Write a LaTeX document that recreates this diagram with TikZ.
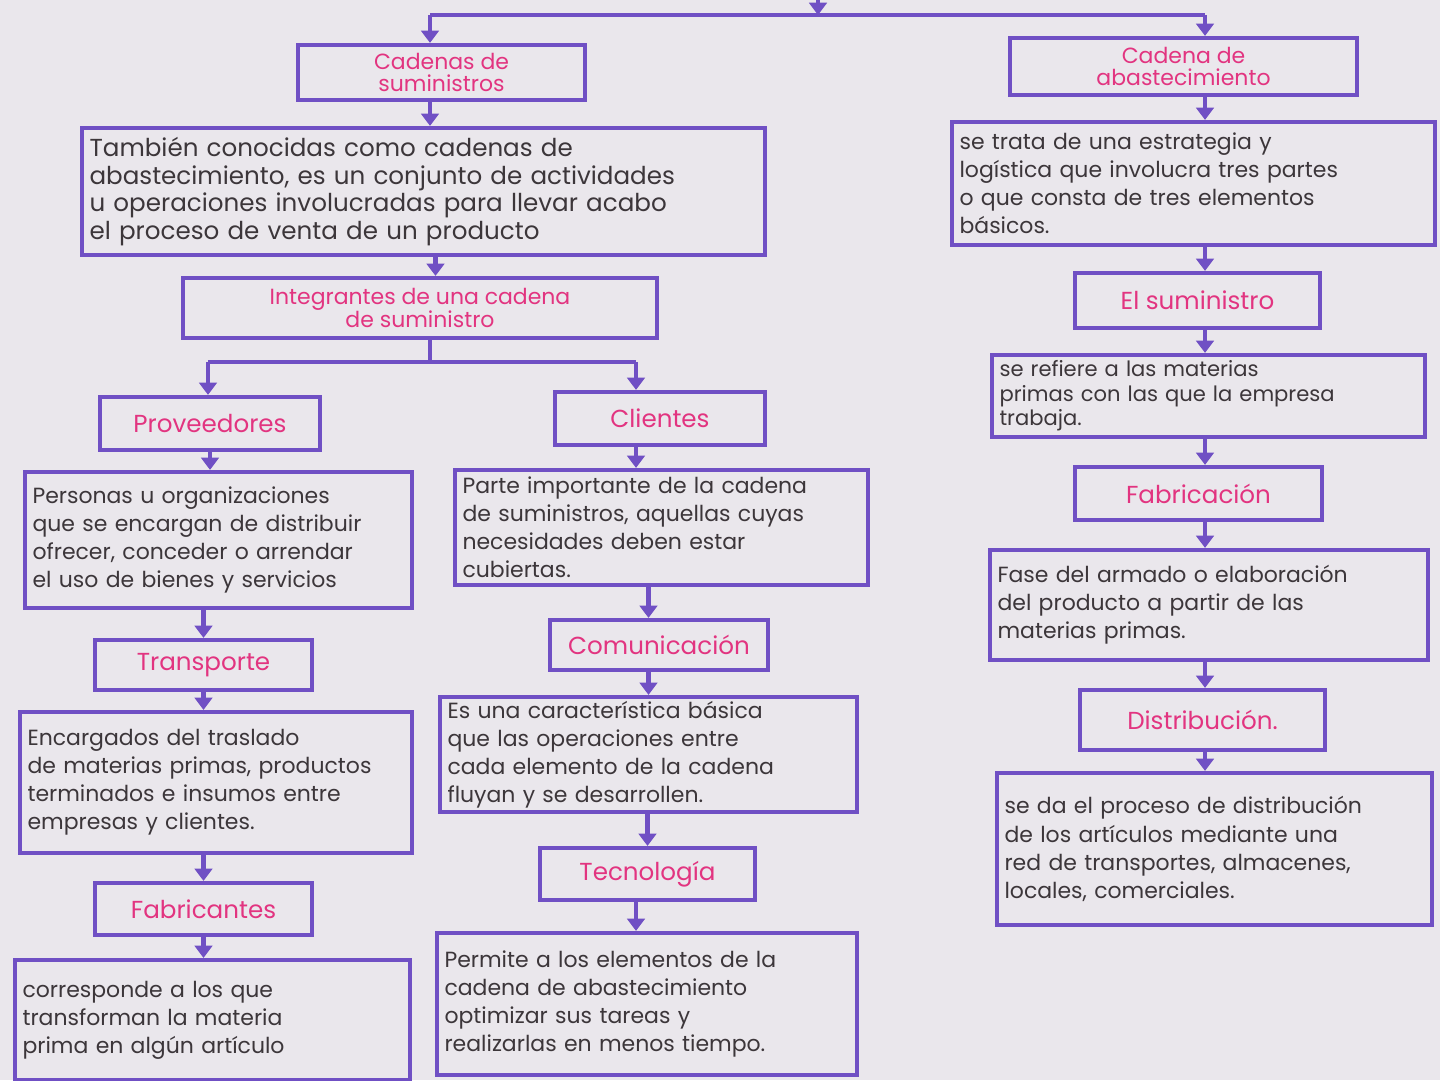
\documentclass[tikz,border=0pt]{standalone}
\usepackage{fontspec}
\setmainfont{Poppins}
\usepackage{tikz}
\usetikzlibrary{arrows.meta}
\definecolor{violeta}{RGB}{112,80,196}
\definecolor{rosa}{RGB}{226,52,128}
\definecolor{tinta}{RGB}{60,54,58}
\definecolor{papel}{RGB}{234,231,236}

\begin{document}
\begin{tikzpicture}[x=0.02cm, y=-0.02cm,
    caja/.style={draw=violeta, line width=2.4pt, inner xsep=0.15cm, inner ysep=0pt},
    titulo/.style={caja, text=rosa, align=center, font=\fontsize{14}{14.5}\selectfont},
    titulodos/.style={titulo, font=\fontsize{12.5}{13}\selectfont},
    texto/.style={caja, text=tinta, align=left, font=\fontsize{12.5}{16}\selectfont},
    linea/.style={draw=violeta, line width=2.4pt},
    flecha/.style={linea, -{Triangle[width=10pt,length=7pt]}}]

  \fill[papel] (0,0) rectangle (1440,1080);
  \useasboundingbox (0,0) rectangle (1440,1080);

  % columna izquierda
  \node[titulodos, minimum width=5.74cm, minimum height=1.1cm] (sumtit) at (441.5,72.5) {Cadenas de\\suministros};
  \node[texto, text width=13.36cm, minimum height=2.54cm, font=\fontsize{14}{15.8}\selectfont] (sumdef) at (423.5,191.5)
    {También conocidas como cadenas de\\abastecimiento, es un conjunto de actividades\\u operaciones involucradas para llevar acabo\\el proceso de venta de un producto};
  \node[titulodos, minimum width=9.48cm, minimum height=1.2cm] (integ) at (420,308) {Integrantes de una cadena\\de suministro};

  \node[titulo, minimum width=4.4cm, minimum height=1.06cm] (prov) at (210,423.5) {Proveedores};
  \node[texto, text width=7.44cm, minimum height=2.72cm] (provtxt) at (218.5,540)
    {Personas u organizaciones\\que se encargan de distribuir\\ofrecer, conceder o arrendar\\el uso de bienes y servicios};
  \node[titulo, minimum width=4.34cm, minimum height=1.0cm] (trans) at (203.5,665) {Transporte};
  \node[texto, text width=7.54cm, minimum height=2.82cm] (transtxt) at (216,782.5)
    {Encargados del traslado\\de materias primas, productos\\terminados e insumos entre\\empresas y clientes.};
  \node[titulo, minimum width=4.34cm, minimum height=1.04cm] (fabr) at (203.5,909) {Fabricantes};
  \node[texto, text width=7.6cm, minimum height=2.4cm] (fabrtxt) at (212.5,1020)
    {corresponde a los que\\transforman la materia\\prima en algún artículo};

  % columna central
  \node[titulo, minimum width=4.2cm, minimum height=1.06cm] (cli) at (660,418.5) {Clientes};
  \node[texto, text width=7.96cm, minimum height=2.3cm] (clitxt) at (661.5,527.5)
    {Parte importante de la cadena\\de suministros, aquellas cuyas\\necesidades deben estar\\cubiertas.};
  \node[titulo, minimum width=4.36cm, minimum height=1.0cm] (com) at (659,645) {Comunicación};
  \node[texto, text width=8.04cm, minimum height=2.3cm] (comtxt) at (648.5,754.5)
    {Es una característica básica\\que las operaciones entre\\cada elemento de la cadena\\fluyan y se desarrollen.};
  \node[titulo, minimum width=4.3cm, minimum height=1.04cm] (tec) at (647.5,874) {Tecnología};
  \node[texto, text width=8.1cm, minimum height=2.84cm] (tectxt) at (647,1004)
    {Permite a los elementos de la\\cadena de abastecimiento\\optimizar sus tareas y\\realizarlas en menos tiempo.};

  % columna derecha
  \node[titulodos, minimum width=6.94cm, minimum height=1.14cm] (abastit) at (1183.5,66.5) {Cadena de\\abastecimiento};
  \node[texto, text width=9.36cm, minimum height=2.46cm] (abasdef) at (1193.5,183.5)
    {se trata de una estrategia y\\logística que involucra tres partes\\o que consta de tres elementos\\básicos.};
  \node[titulo, minimum width=4.9cm, minimum height=1.1cm] (elsum) at (1197.5,300.5) {El suministro};
  \node[texto, text width=8.36cm, minimum height=1.64cm, font=\fontsize{12}{14}\selectfont] (elsumtxt) at (1208.5,396)
    {se refiere a las materias\\primas con las que la empresa\\trabaja.};
  \node[titulo, minimum width=4.94cm, minimum height=1.06cm] (fab) at (1198.5,493.5) {Fabricación};
  \node[texto, text width=8.46cm, minimum height=2.2cm] (fabtxt) at (1209,605)
    {Fase del armado o elaboración\\del producto a partir de las\\materias primas.};
  \node[titulo, minimum width=4.9cm, minimum height=1.2cm] (dist) at (1202.5,720) {Distribución.};
  \node[texto, text width=8.4cm, minimum height=3.04cm] (disttxt) at (1214.5,849)
    {se da el proceso de distribución\\de los artículos mediante una\\red de transportes, almacenes,\\locales, comerciales.};

  % conectores
  \coordinate (arriba) at (818,-6);
  \coordinate (izq) at (430,15);
  \coordinate (der) at (1205,15);
  \draw[flecha] (arriba) -- (arriba |- izq);
  \draw[linea] (izq) -- (der);
  \draw[flecha] (izq) -- (izq |- sumtit.north);
  \draw[flecha] (der) -- (der |- abastit.north);

  \draw[flecha] (sumtit.south -| izq) -- (izq |- sumdef.north);
  \draw[flecha] (sumdef.south) ++(12,0) coordinate (bajo) -- (bajo |- integ.north);

  \coordinate (bizq) at (208,362);
  \coordinate (bder) at (636,362);
  \draw[linea] (integ.south -| izq) -- (izq |- bizq);
  \draw[linea] (bizq) -- (bder);
  \draw[flecha] (bizq) -- (bizq |- prov.north);
  \draw[flecha] (bder) -- (bder |- cli.north);

  \draw[flecha] (prov.south) -- (prov.south |- provtxt.north);
  \draw[flecha] (trans.south |- provtxt.south) -- (trans.north);
  \draw[flecha] (trans.south) -- (trans.south |- transtxt.north);
  \draw[flecha] (fabr.south |- transtxt.south) -- (fabr.north);
  \draw[flecha] (fabr.south) -- (fabr.south |- fabrtxt.north);

  \draw[flecha] (bder |- cli.south) -- (bder |- clitxt.north);
  \draw[flecha] (comtxt.north |- clitxt.south) -- (comtxt.north |- com.north);
  \draw[flecha] (comtxt.north |- com.south) -- (comtxt.north);
  \draw[flecha] (tec.north |- comtxt.south) -- (tec.north);
  \draw[flecha] (bder |- tec.south) -- (bder |- tectxt.north);

  \draw[flecha] (der |- abastit.south) -- (der |- abasdef.north);
  \draw[flecha] (der |- abasdef.south) -- (der |- elsum.north);
  \draw[flecha] (der |- elsum.south) -- (der |- elsumtxt.north);
  \draw[flecha] (der |- elsumtxt.south) -- (der |- fab.north);
  \draw[flecha] (der |- fab.south) -- (der |- fabtxt.north);
  \draw[flecha] (der |- fabtxt.south) -- (der |- dist.north);
  \draw[flecha] (der |- dist.south) -- (der |- disttxt.north);
\end{tikzpicture}
\end{document}
